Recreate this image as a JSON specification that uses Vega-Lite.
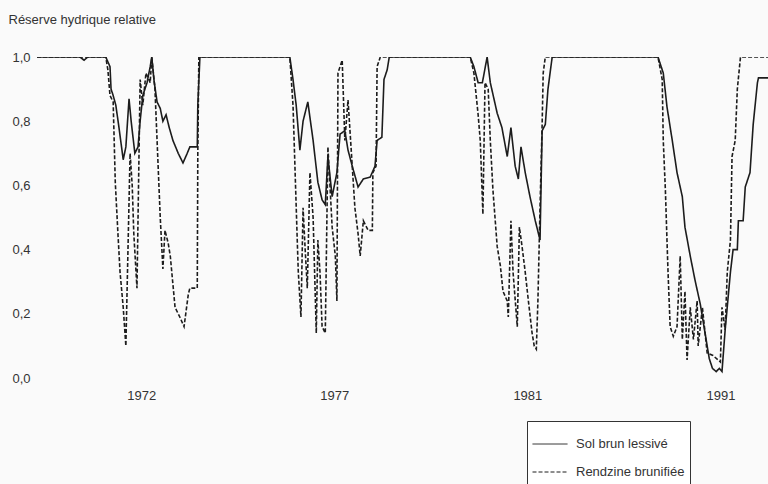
{
  "$schema": "https://vega.github.io/schema/vega-lite/v6.json",
  "autosize": {"type": "none"},
  "padding": {"left": 37, "top": 57, "right": 0, "bottom": 106},
  "width": 731,
  "height": 321,
  "background": "#fafafa",
  "config": {
    "view": {"stroke": null},
    "font": "Liberation Sans"
  },
  "datasets": {
    "sol": [
      [0,1.0],[81,1.0],[89,0.99],[96,1.0],[130,1.0],[138,0.97],[140,0.9],[144,0.88],[149,0.85],[155,0.78],[163,0.68],[168,0.72],[174,0.87],[178,0.8],[185,0.7],[191,0.72],[195,0.8],[200,0.88],[208,0.92],[214,0.97],[217,1.0],[221,0.93],[227,0.86],[233,0.84],[238,0.8],[244,0.82],[250,0.78],[257,0.74],[267,0.7],[276,0.67],[284,0.7],[289,0.72],[303,0.72],[304,0.85],[308,1.0],
      [478,1.0],[484,0.93],[490,0.85],[494,0.77],[497,0.71],[503,0.8],[512,0.86],[522,0.74],[531,0.61],[539,0.555],[545,0.54],[550,0.69],[558,0.565],[567,0.64],[573,0.76],[582,0.77],[588,0.71],[596,0.66],[607,0.595],[617,0.62],[630,0.626],[639,0.66],[643,0.74],[652,0.75],[656,0.93],[662,0.96],[666,1.0],
      [819,1.0],[826,0.97],[834,0.92],[842,0.92],[851,1.0],[857,0.92],[870,0.825],[879,0.78],[889,0.69],[896,0.78],[904,0.66],[910,0.62],[915,0.72],[923,0.64],[932,0.565],[942,0.49],[948,0.45],[951,0.43],[955,0.77],[961,0.79],[966,0.9],[974,1.0],
      [1174,1.0],[1184,0.95],[1191,0.845],[1201,0.74],[1210,0.64],[1220,0.565],[1225,0.47],[1235,0.38],[1244,0.305],[1254,0.23],[1263,0.14],[1271,0.06],[1277,0.03],[1284,0.02],[1290,0.03],[1295,0.02],[1301,0.15],[1311,0.33],[1316,0.4],[1324,0.4],[1326,0.49],[1335,0.49],[1339,0.595],[1348,0.64],[1354,0.79],[1362,0.92],[1364,0.935],[1382,0.935]
    ],
    "rendzine": [
      [0,1.0],[130,1.0],[134,0.96],[138,0.88],[144,0.86],[148,0.61],[153,0.45],[157,0.33],[163,0.22],[168,0.1],[172,0.4],[176,0.7],[180,0.6],[183,0.45],[189,0.28],[195,0.93],[200,0.85],[206,0.95],[214,0.92],[217,1.0],[223,0.9],[227,0.74],[233,0.5],[238,0.34],[242,0.46],[248,0.42],[252,0.38],[261,0.22],[270,0.19],[278,0.16],[286,0.26],[289,0.28],[303,0.28],[304,0.7],[306,1.0],
      [478,1.0],[484,0.85],[488,0.64],[492,0.43],[494,0.33],[499,0.19],[503,0.53],[507,0.4],[511,0.28],[516,0.64],[522,0.5],[528,0.14],[531,0.43],[535,0.33],[539,0.16],[545,0.14],[550,0.72],[558,0.47],[564,0.38],[567,0.24],[569,0.95],[577,0.99],[582,0.74],[588,0.866],[596,0.66],[601,0.53],[607,0.45],[611,0.38],[617,0.49],[626,0.46],[634,0.46],[635,0.64],[641,0.66],[643,0.97],[649,1.0],
      [819,1.0],[826,0.95],[834,0.82],[838,0.74],[843,0.51],[847,0.92],[853,0.9],[857,0.74],[862,0.585],[870,0.41],[876,0.35],[881,0.27],[889,0.24],[891,0.19],[896,0.49],[900,0.33],[908,0.16],[912,0.47],[917,0.41],[923,0.33],[929,0.24],[936,0.14],[940,0.1],[944,0.09],[947,0.24],[951,0.53],[955,0.79],[957,0.95],[961,1.0],
      [1174,1.0],[1182,0.93],[1184,0.74],[1188,0.585],[1191,0.43],[1193,0.33],[1197,0.16],[1203,0.13],[1210,0.16],[1216,0.38],[1220,0.12],[1225,0.27],[1229,0.056],[1235,0.22],[1241,0.12],[1248,0.24],[1250,0.1],[1258,0.22],[1267,0.078],[1278,0.07],[1292,0.05],[1295,0.22],[1301,0.15],[1305,0.33],[1311,0.43],[1314,0.69],[1320,0.74],[1324,0.9],[1330,1.0],[1382,1.0]
    ]
  },
  "layer": [
    {
      "data": {"name": "sol"},
      "transform": [
        {"calculate": "datum[0]", "as": "jour"},
        {"calculate": "datum[1]", "as": "reserve"},
        {"calculate": "'Sol brun lessivé'", "as": "sol"}
      ],
      "mark": {"type": "line", "color": "#1c1c1c", "strokeWidth": 1.6, "clip": true},
      "encoding": {
        "x": {"field": "jour", "type": "quantitative", "scale": {"domain": [0, 1382], "nice": false, "zero": false},
          "axis": {"title": null, "domain": false, "ticks": false, "grid": false, "values": [197, 562, 927, 1292],
            "labelExpr": "datum.value == 197 ? '1972' : datum.value == 562 ? '1977' : datum.value == 927 ? '1981' : '1991'",
            "labelPadding": 11, "labelFontSize": 13, "labelColor": "#333", "labelFont": "Liberation Sans"}},
        "y": {"field": "reserve", "type": "quantitative", "scale": {"domain": [0, 1], "nice": false},
          "axis": {"title": "Réserve hydrique relative", "titleAngle": 0, "titleAlign": "left", "titleBaseline": "alphabetic",
            "titleX": -29, "titleY": -34, "titleFontSize": 13, "titleFontWeight": "normal", "titleColor": "#333", "titleFont": "Liberation Sans",
            "domain": false, "ticks": false, "grid": false, "values": [0, 0.2, 0.4, 0.6, 0.8, 1],
            "labelExpr": "replace(format(datum.value, '.1f'), '.', ',')", "labelPadding": 7, "labelFontSize": 13, "labelColor": "#333", "labelFont": "Liberation Sans"}},
        "strokeDash": {"field": "sol", "type": "nominal",
          "scale": {"domain": ["Sol brun lessivé", "Rendzine brunifiée"], "range": [[1, 0], [4, 2]]},
          "legend": {"orient": "none", "legendX": 490, "legendY": 364, "title": null, "symbolType": "stroke", "symbolSize": 1225,
            "symbolStrokeColor": "#1c1c1c", "symbolStrokeWidth": 1, "labelFontSize": 13, "labelColor": "#333", "labelFont": "Liberation Sans",
            "labelOffset": 8, "strokeColor": "#333", "fillColor": "white", "padding": 5, "rowPadding": 3}}
      }
    },
    {
      "data": {"name": "rendzine"},
      "transform": [
        {"calculate": "datum[0]", "as": "jour"},
        {"calculate": "datum[1]", "as": "reserve"},
        {"calculate": "'Rendzine brunifiée'", "as": "sol"}
      ],
      "mark": {"type": "line", "color": "#1c1c1c", "strokeWidth": 1.6, "clip": true},
      "encoding": {
        "x": {"field": "jour", "type": "quantitative"},
        "y": {"field": "reserve", "type": "quantitative"},
        "strokeDash": {"field": "sol", "type": "nominal"}
      }
    }
  ]
}
